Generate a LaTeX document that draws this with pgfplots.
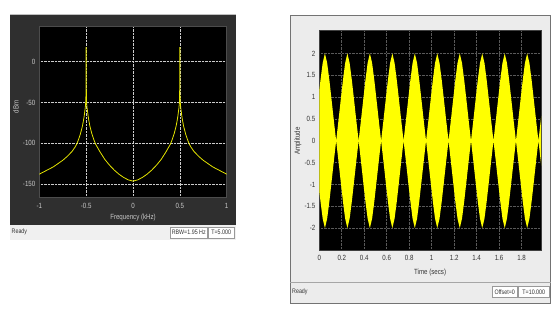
\documentclass[border=0pt]{standalone}
\usepackage{pgfplots}
\pgfplotsset{compat=1.18}
\usepackage{pgfplotstable}
\usepackage{fontspec}
\setmainfont{Liberation Sans}[FakeStretch=0.82]

\definecolor{frameDark}{HTML}{2F2F2F}
\definecolor{statusGray}{HTML}{F0F0F0}
\definecolor{panelGray}{HTML}{ECECEC}
\definecolor{specYellow}{HTML}{E4E400}
\definecolor{scopeYellow}{HTML}{FFFF00}
\definecolor{lightLab}{HTML}{C8C8C8}
\definecolor{darkLab}{HTML}{333333}

\newcommand\smallf{\fontsize{7.5}{9}\selectfont}
\newcommand\tinyf{\fontsize{6.5}{8}\selectfont}

\pgfplotstableread{
f dB
-1 -138
-0.95 -135
-0.9 -132
-0.85 -129
-0.8 -125
-0.75 -121
-0.7 -116
-0.65 -110
-0.62 -105
-0.6 -101
-0.58 -95
-0.56 -88
-0.54 -79
-0.53 -73
-0.52 -66
-0.515 -61
-0.51 -57
-0.506 -52
-0.503 -47
-0.501 -20
-0.5 18
-0.499 -20
-0.497 -47
-0.494 -52
-0.49 -57
-0.485 -61
-0.48 -66
-0.47 -73
-0.46 -79
-0.44 -88
-0.42 -95
-0.4 -101
-0.38 -105
-0.35 -111
-0.3 -120
-0.25 -127
-0.2 -133
-0.15 -138
-0.1 -142
-0.05 -145
0 -146.5
0.05 -145
0.1 -142
0.15 -138
0.2 -133
0.25 -127
0.3 -120
0.35 -111
0.38 -105
0.4 -101
0.42 -95
0.44 -88
0.46 -79
0.47 -73
0.48 -66
0.485 -61
0.49 -57
0.494 -52
0.497 -47
0.499 -20
0.5 18
0.501 -20
0.503 -47
0.506 -52
0.51 -57
0.515 -61
0.52 -66
0.53 -73
0.54 -79
0.56 -88
0.58 -95
0.6 -101
0.62 -105
0.65 -110
0.7 -116
0.75 -121
0.8 -125
0.85 -129
0.9 -132
0.95 -135
1 -138
}\spectrum

\pgfplotstableread{
t up lo
-0.05 0 0
-0.03 0.45 -0.45
-0.01 0.92 -0.92
0.01 1.38 -1.38
0.03 1.78 -1.78
0.05 2.00 -2.00
0.07 1.78 -1.78
0.09 1.38 -1.38
0.11 0.92 -0.92
0.13 0.45 -0.45
0.15 0 0
0.17 0.45 -0.45
0.19 0.92 -0.92
0.21 1.38 -1.38
0.23 1.78 -1.78
0.25 2.00 -2.00
0.27 1.78 -1.78
0.29 1.38 -1.38
0.31 0.92 -0.92
0.33 0.45 -0.45
0.35 0 0
0.37 0.45 -0.45
0.39 0.92 -0.92
0.41 1.38 -1.38
0.43 1.78 -1.78
0.45 2.00 -2.00
0.47 1.78 -1.78
0.49 1.38 -1.38
0.51 0.92 -0.92
0.53 0.45 -0.45
0.55 0 0
0.57 0.45 -0.45
0.59 0.92 -0.92
0.61 1.38 -1.38
0.63 1.78 -1.78
0.65 2.00 -2.00
0.67 1.78 -1.78
0.69 1.38 -1.38
0.71 0.92 -0.92
0.73 0.45 -0.45
0.75 0 0
0.77 0.45 -0.45
0.79 0.92 -0.92
0.81 1.38 -1.38
0.83 1.78 -1.78
0.85 2.00 -2.00
0.87 1.78 -1.78
0.89 1.38 -1.38
0.91 0.92 -0.92
0.93 0.45 -0.45
0.95 0 0
0.97 0.45 -0.45
0.99 0.92 -0.92
1.01 1.38 -1.38
1.03 1.78 -1.78
1.05 2.00 -2.00
1.07 1.78 -1.78
1.09 1.38 -1.38
1.11 0.92 -0.92
1.13 0.45 -0.45
1.15 0 0
1.17 0.45 -0.45
1.19 0.92 -0.92
1.21 1.38 -1.38
1.23 1.78 -1.78
1.25 2.00 -2.00
1.27 1.78 -1.78
1.29 1.38 -1.38
1.31 0.92 -0.92
1.33 0.45 -0.45
1.35 0 0
1.37 0.45 -0.45
1.39 0.92 -0.92
1.41 1.38 -1.38
1.43 1.78 -1.78
1.45 2.00 -2.00
1.47 1.78 -1.78
1.49 1.38 -1.38
1.51 0.92 -0.92
1.53 0.45 -0.45
1.55 0 0
1.57 0.45 -0.45
1.59 0.92 -0.92
1.61 1.38 -1.38
1.63 1.78 -1.78
1.65 2.00 -2.00
1.67 1.78 -1.78
1.69 1.38 -1.38
1.71 0.92 -0.92
1.73 0.45 -0.45
1.75 0 0
1.77 0.45 -0.45
1.79 0.92 -0.92
1.81 1.38 -1.38
1.83 1.78 -1.78
1.85 2.00 -2.00
1.87 1.78 -1.78
1.89 1.38 -1.38
1.91 0.92 -0.92
1.93 0.45 -0.45
1.95 0 0
1.97 0.45 -0.45
1.99 0.92 -0.92
2.01 1.38 -1.38
}\envelope

\begin{document}
\begin{tikzpicture}
\path[use as bounding box] (0pt,0pt) rectangle (557pt,-318pt);
\fill[white] (0pt,0pt) rectangle (557pt,-318pt);

% ---------- left panel frame ----------
\fill[frameDark] (10pt,-14.5pt) rectangle (235.5pt,-225pt);
\draw[gray!50, line width=0.7pt] (10pt,-14.5pt) -- (235.5pt,-14.5pt);
\fill[statusGray] (10pt,-225pt) rectangle (235.5pt,-240pt);
\node[anchor=west, font=\tinyf, text=darkLab, inner sep=0pt] at (11.5pt,-232pt) {Ready};
\draw[gray!80, fill=white, line width=0.4pt] (170pt,-227.5pt) rectangle (207.5pt,-238pt);
\node[font=\tinyf, text=darkLab, inner sep=0pt] at (188.75pt,-232.7pt) {RBW=1.95 Hz};
\draw[gray!80, fill=white, line width=0.4pt] (208pt,-227.5pt) rectangle (234.5pt,-238pt);
\node[font=\tinyf, text=darkLab, inner sep=0pt] at (221.2pt,-232.7pt) {T=5.000};

% ---------- right panel frame ----------
\fill[panelGray] (290pt,-15pt) rectangle (550.5pt,-303pt);
\draw[gray!90!black, line width=0.6pt] (290pt,-15pt) rectangle (550.5pt,-303pt);
\draw[gray!70, line width=0.5pt] (290pt,-282pt) -- (550.5pt,-282pt);
\node[anchor=west, font=\tinyf, text=darkLab, inner sep=0pt] at (292pt,-291.5pt) {Ready};
\draw[gray!80, fill=white, line width=0.4pt] (492pt,-286pt) rectangle (517.5pt,-297.5pt);
\node[font=\tinyf, text=darkLab, inner sep=0pt] at (504.75pt,-291.8pt) {Offset=0};
\draw[gray!80, fill=white, line width=0.4pt] (518pt,-286pt) rectangle (549.5pt,-297.5pt);
\node[font=\tinyf, text=darkLab, inner sep=0pt] at (533.75pt,-291.8pt) {T=10.000};

% ---------- left axis: spectrum ----------
\begin{axis}[
  at={(39.3pt,-197pt)}, anchor=south west,
  scale only axis, width=187.4pt, height=170.3pt,
  xmin=-1, xmax=1, ymin=-166, ymax=43,
  xtick={-1,-0.5,0,0.5,1}, xticklabels={-1,-0.5,0,0.5,1},
  ytick={-150,-100,-50,0}, yticklabels={-150,-100,-50,0},
  major tick length=0pt,
  grid=major,
  grid style={densely dotted, line width=0.6pt, white!80!black},
  axis background/.style={fill=black},
  axis line style={draw=gray!60!black, line width=0.5pt},
  tick label style={font=\smallf, text=lightLab},
  xticklabel style={yshift=-3pt},
  yticklabel style={xshift=-0.5pt},
  xlabel={Frequency (kHz)}, ylabel={dBm},
  label style={font=\smallf, text=lightLab},
  xlabel style={at={(axis description cs:0.5,-0.123)}, anchor=center},
  ylabel style={at={(axis description cs:-0.125,0.53)}, anchor=center},
]
\addplot[specYellow, line width=0.8pt, mark=none] table[x=f, y=dB]{\spectrum};
\end{axis}

% ---------- right axis: time scope ----------
\begin{axis}[
  at={(319.3pt,-250pt)}, anchor=south west,
  scale only axis, width=221.7pt, height=219.3pt,
  xmin=0, xmax=1.973, ymin=-2.5, ymax=2.52,
  xtick={0,0.2,0.4,0.6,0.8,1,1.2,1.4,1.6,1.8},
  xticklabels={0,0.2,0.4,0.6,0.8,1,1.2,1.4,1.6,1.8},
  ytick={-2,-1.5,-1,-0.5,0,0.5,1,1.5,2},
  yticklabels={-2,-1.5,-1,-0.5,0,0.5,1,1.5,2},
  major tick length=0pt,
  grid=major,
  grid style={densely dotted, line width=0.6pt, gray!70!black},
  axis background/.style={fill=black},
  axis line style={draw=gray!50!black, line width=0.5pt},
  tick label style={font=\smallf, text=darkLab},
  xticklabel style={yshift=-2pt},
  yticklabel style={xshift=-0.5pt},
  xlabel={Time (secs)}, ylabel={Amplitude},
  label style={font=\smallf, text=darkLab},
  xlabel style={at={(axis description cs:0.5,-0.105)}, anchor=center},
  ylabel style={at={(axis description cs:-0.096,0.497)}, anchor=center},
]
\addplot[fill=scopeYellow, draw=none, mark=none] table[x=t, y=up]{\envelope} \closedcycle;
\addplot[fill=scopeYellow, draw=none, mark=none] table[x=t, y=lo]{\envelope} \closedcycle;
\end{axis}
\end{tikzpicture}
\end{document}
